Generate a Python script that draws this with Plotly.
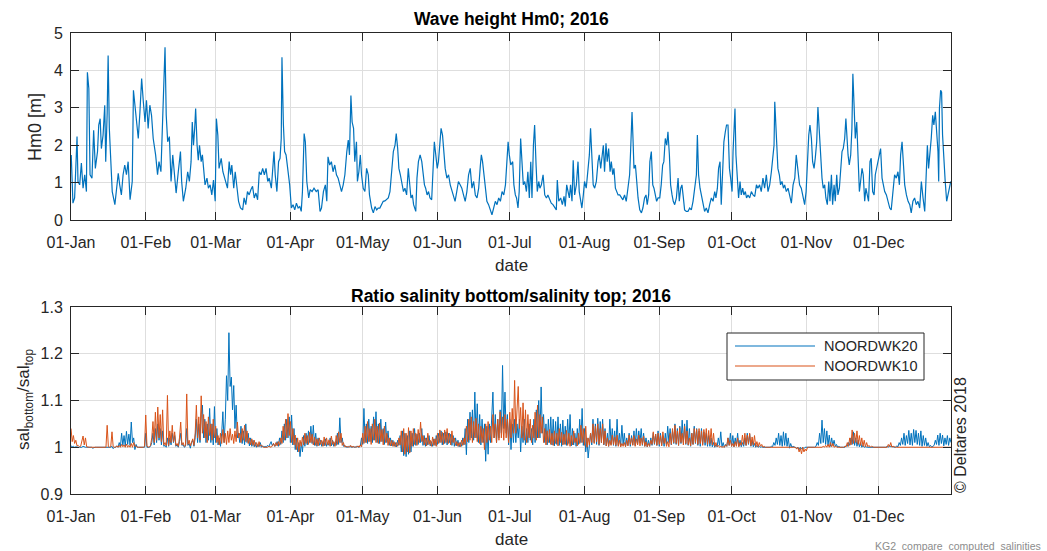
import pandas as pd
import plotly.graph_objects as go

START = pd.Timestamp("2016-01-01")
W, H = 1047, 551
FONT = "Liberation Sans, Arial, Helvetica, sans-serif"
BLUE = "#0072BD"
ORANGE = "#D95319"

# Significant wave height Hm0 [m]: (days since 1 Jan 2016, value)
hm0_q1 = [
    (0.1, 1.74), (0.8, 0.45), (1.5, 0.59), (2.5, 2.23), (2.9, 1.03), (3.6, 0.94), (4.3, 1.52),
    (5.0, 0.85), (5.7, 1.21), (6.4, 0.76), (6.8, 3.95), (7.4, 3.51), (7.9, 1.21), (8.7, 1.12),
    (9.4, 2.40), (10.1, 1.38), (11.0, 1.83), (11.5, 2.54), (12.1, 2.71), (12.6, 1.91), (13.3, 2.27),
    (14.0, 3.07), (14.4, 1.56), (15.0, 2.85), (15.4, 4.40), (15.9, 2.45), (16.4, 1.74), (17.1, 0.76),
    (18.2, 0.41), (18.9, 0.85), (19.6, 1.25), (20.2, 0.94), (20.9, 0.67), (21.6, 1.21), (22.3, 1.47),
    (23.0, 1.21), (23.7, 1.56), (24.5, 0.54), (25.4, 1.03), (25.9, 3.47), (26.5, 3.02), (27.2, 2.54),
    (27.9, 2.18), (28.6, 2.89), (29.3, 3.78), (30.0, 3.16), (30.7, 2.62), (31.3, 3.20), (32.0, 2.45),
    (32.7, 3.07), (33.4, 2.80), (34.1, 2.18), (35.1, 1.74), (35.9, 1.21), (36.5, 1.56), (37.3, 1.29),
    (38.0, 2.80), (38.6, 3.42), (39.0, 4.62), (39.5, 2.80), (40.1, 2.09), (40.8, 2.23), (41.5, 1.03),
    (42.2, 1.74), (42.9, 1.12), (43.6, 0.72), (44.5, 1.29), (45.4, 1.83), (45.9, 1.03), (46.6, 0.50),
    (47.6, 0.85), (48.4, 1.29), (49.1, 1.03), (49.8, 1.56), (50.3, 2.62), (50.8, 2.00), (51.3, 2.45),
    (51.7, 2.98), (52.3, 2.00), (52.8, 1.60), (53.3, 2.00), (54.0, 1.56), (54.5, 1.74), (55.1, 1.29),
    (55.6, 0.94), (56.4, 1.12), (57.0, 0.85), (57.7, 0.94), (58.4, 0.67), (59.1, 1.07), (59.8, 0.50),
    (60.3, 2.71), (60.9, 2.27), (61.4, 1.38), (62.3, 1.65), (63.0, 1.29), (63.7, 1.12), (64.2, 1.03),
    (64.9, 0.85), (65.6, 1.56), (66.2, 1.21), (66.7, 1.47), (67.5, 0.85), (68.1, 1.29), (68.8, 0.94),
    (69.5, 0.50), (70.3, 0.32), (71.2, 0.27), (71.8, 0.59), (72.5, 0.41), (73.2, 0.76), (73.9, 0.67),
    (74.6, 0.81), (75.3, 0.90), (76.0, 0.59), (76.7, 0.72), (77.4, 0.54), (78.1, 1.29), (78.8, 1.21),
    (79.5, 1.38), (80.2, 1.21), (80.9, 1.38), (81.6, 1.03), (82.2, 1.12), (83.1, 0.85), (83.6, 1.21),
    (84.2, 1.83), (84.7, 1.21), (85.4, 0.76), (86.1, 1.56), (86.7, 1.65), (87.2, 2.18), (87.5, 4.35),
    (88.1, 2.54), (88.6, 1.83), (89.2, 1.74), (89.7, 1.47),
]
hm0_q2 = [
    (90.7, 0.94), (91.4, 0.32), (92.1, 0.41), (92.8, 0.27), (93.5, 0.45), (94.2, 0.32), (94.9, 0.36),
    (95.5, 0.23), (96.0, 0.76), (96.7, 2.31), (97.2, 2.09), (97.8, 1.03), (98.6, 0.59), (99.2, 0.81),
    (100.0, 0.76), (100.8, 0.85), (101.7, 0.76), (102.5, 0.81), (103.3, 0.23), (103.9, 0.32),
    (104.7, 0.76), (105.5, 0.94), (106.1, 0.50), (106.6, 1.69), (107.3, 1.47), (108.0, 1.56),
    (108.7, 1.29), (109.4, 1.47), (110.1, 1.21), (110.8, 1.12), (111.5, 0.94), (112.2, 0.76),
    (112.9, 0.94), (113.6, 1.21), (114.4, 1.83), (115.0, 2.14), (115.5, 1.74), (116.1, 3.33),
    (116.6, 2.62), (117.2, 2.45), (117.7, 1.56), (118.4, 2.09), (118.8, 1.03), (119.4, 1.29),
    (120.0, 1.74), (120.5, 1.21), (121.2, 0.85), (121.9, 0.76), (122.6, 1.38), (123.3, 1.21),
    (123.8, 0.67), (124.7, 0.32), (125.4, 0.19), (126.1, 0.36), (126.8, 0.27), (127.4, 0.32),
    (128.1, 0.32), (128.8, 0.41), (129.5, 0.50), (130.2, 0.51), (130.9, 0.54), (131.6, 0.59),
    (132.3, 0.76), (133.0, 1.29), (133.7, 1.83), (134.4, 2.00), (134.9, 2.31), (135.5, 1.91),
    (136.0, 1.38), (136.6, 1.21), (137.2, 0.94), (137.9, 0.76), (138.5, 0.85), (139.2, 0.67),
    (139.9, 1.38), (140.5, 0.94), (141.0, 0.59), (141.6, 0.67), (142.1, 0.41), (143.0, 0.23),
    (143.5, 1.12), (144.1, 1.56), (144.8, 1.74), (145.5, 1.56), (146.0, 1.21), (146.6, 0.94),
    (147.1, 0.85), (147.7, 0.67), (148.3, 0.76), (148.9, 0.59), (149.6, 0.54), (150.3, 1.65),
    (150.7, 2.09), (151.3, 1.74), (151.9, 1.38), (152.4, 1.56), (153.0, 2.09), (153.5, 2.45),
    (154.1, 2.27), (154.6, 1.74), (155.2, 1.38), (155.9, 1.12), (156.6, 1.21), (157.3, 0.94),
    (158.0, 0.76), (158.7, 0.59), (159.3, 0.50), (160.0, 0.76), (160.7, 1.03), (161.4, 0.94),
    (162.1, 0.85), (162.8, 0.67), (163.5, 0.50), (164.2, 0.76), (164.9, 1.21), (165.6, 1.38),
    (166.3, 0.85), (167.0, 1.03), (167.7, 0.67), (168.4, 0.59), (169.1, 0.85), (169.8, 1.47),
    (170.2, 1.74), (170.7, 1.56), (171.3, 1.21), (171.8, 0.85), (172.5, 0.50), (173.2, 0.41),
    (173.9, 0.27), (174.6, 0.14), (175.3, 0.32), (176.0, 0.50), (176.7, 0.41), (177.4, 0.59),
    (178.1, 0.50), (178.8, 0.76), (179.5, 0.67), (180.2, 0.94), (180.8, 1.56), (181.3, 2.09),
    (181.8, 1.74), (182.4, 1.47),
]
hm0_q3 = [
    (183.2, 1.56), (183.7, 0.94), (184.3, 0.67), (184.8, 0.59), (185.4, 0.32), (185.9, 0.76),
    (186.5, 2.18), (187.1, 1.38), (187.6, 0.94), (188.2, 1.03), (188.9, 0.76), (189.5, 1.29),
    (190.1, 0.59), (190.7, 1.56), (191.2, 0.59), (191.8, 2.00), (192.3, 2.54), (192.9, 1.47),
    (193.4, 0.76), (194.0, 1.03), (194.5, 0.85), (195.1, 0.94), (195.8, 1.21), (196.5, 0.67),
    (197.2, 0.59), (197.8, 0.67), (198.5, 0.54), (199.2, 0.45), (199.9, 0.41), (200.6, 0.32),
    (201.3, 0.27), (201.7, 1.07), (202.3, 0.50), (203.1, 0.59), (203.8, 0.41), (204.5, 0.63),
    (205.0, 0.36), (205.6, 0.94), (206.1, 0.72), (206.7, 0.59), (207.2, 0.94), (207.8, 0.50),
    (208.3, 1.60), (208.9, 0.67), (209.6, 0.94), (210.3, 1.56), (210.8, 0.76), (211.4, 0.50),
    (211.9, 0.32), (212.5, 0.67), (213.0, 1.03), (213.7, 0.85), (214.4, 1.38), (215.0, 1.74),
    (215.5, 2.45), (216.1, 1.74), (216.6, 0.94), (217.2, 0.85), (217.9, 1.03), (218.6, 1.56),
    (219.1, 1.74), (219.7, 1.38), (220.2, 1.65), (220.8, 2.00), (221.3, 1.29), (221.9, 2.05),
    (222.4, 1.56), (223.0, 1.91), (223.6, 1.29), (224.1, 1.56), (224.7, 1.21), (225.2, 1.38),
    (225.8, 0.85), (226.3, 0.76), (226.9, 0.67), (227.6, 0.67), (228.3, 0.59), (228.9, 0.54),
    (229.6, 0.67), (230.3, 0.50), (231.0, 0.85), (231.7, 1.21), (232.1, 1.83), (232.7, 2.89),
    (233.1, 2.18), (233.5, 1.38), (234.1, 1.47), (234.6, 1.03), (235.2, 0.59), (235.9, 0.27),
    (236.6, 0.19), (237.2, 0.32), (237.9, 0.59), (238.5, 0.67), (239.0, 0.41), (239.6, 0.67),
    (240.1, 1.56), (240.7, 1.83), (241.3, 0.94), (241.8, 0.85), (242.4, 0.67), (242.9, 0.50),
    (243.5, 0.59), (244.2, 0.59), (244.8, 0.94), (245.4, 1.47), (245.9, 1.56), (246.5, 2.18),
    (247.1, 2.00), (247.6, 2.36), (248.2, 1.74), (248.7, 0.94), (249.3, 0.67), (249.8, 0.50),
    (250.4, 0.41), (251.1, 0.59), (251.8, 1.12), (252.3, 0.50), (252.9, 0.85), (253.4, 0.94),
    (254.0, 0.59), (254.5, 0.27), (255.2, 0.23), (255.9, 0.23), (256.6, 0.32), (257.3, 0.27),
    (258.0, 0.50), (258.7, 0.85), (259.4, 1.21), (259.8, 2.27), (260.3, 1.21), (260.9, 0.85),
    (261.4, 0.67), (262.1, 0.50), (262.8, 0.23), (263.5, 0.32), (264.2, 0.19), (264.9, 0.41),
    (265.6, 0.59), (266.3, 0.50), (267.0, 0.76), (267.5, 0.59), (268.1, 0.85), (268.6, 1.38),
    (269.2, 1.56), (269.7, 0.41), (270.3, 1.47), (270.8, 2.09), (271.4, 2.36), (271.9, 2.54),
]
hm0_q4 = [
    (272.5, 2.54), (273.1, 1.38), (273.6, 1.12), (274.2, 0.76), (274.6, 1.83), (275.0, 2.45),
    (275.4, 2.98), (275.8, 1.74), (276.4, 1.12), (276.9, 0.59), (277.5, 1.03), (278.0, 0.67),
    (278.6, 0.85), (279.1, 0.67), (279.7, 0.76), (280.2, 0.59), (280.8, 0.67), (281.5, 0.59),
    (282.2, 0.76), (282.9, 0.67), (283.6, 0.63), (284.3, 0.94), (284.9, 0.85), (285.6, 0.94),
    (286.3, 0.76), (287.0, 1.12), (287.7, 0.85), (288.4, 1.21), (289.1, 0.76), (289.8, 0.94),
    (290.5, 1.29), (291.0, 1.65), (291.6, 2.00), (291.9, 3.16), (292.3, 2.45), (292.8, 1.74),
    (293.2, 1.38), (293.8, 1.21), (294.3, 0.94), (294.9, 1.03), (295.5, 0.85), (296.0, 0.94),
    (296.7, 0.76), (297.4, 0.85), (298.1, 0.67), (298.8, 0.45), (299.5, 0.94), (300.2, 1.12),
    (300.8, 1.74), (301.5, 1.29), (302.2, 0.94), (302.9, 0.85), (303.6, 0.67), (304.3, 0.41),
    (304.9, 0.76), (305.4, 1.56), (306.0, 2.27), (306.5, 2.54), (307.1, 2.18), (307.6, 1.56),
    (308.2, 1.38), (308.7, 1.65), (309.3, 2.09), (309.8, 3.02), (310.4, 2.36), (310.9, 1.65),
    (311.5, 1.12), (312.0, 0.85), (312.6, 0.94), (313.1, 0.59), (313.7, 0.41), (314.3, 1.03),
    (314.8, 0.50), (315.4, 1.21), (315.9, 0.41), (316.5, 0.94), (317.0, 0.50), (317.6, 1.21),
    (318.1, 0.67), (318.7, 0.85), (319.2, 1.47), (319.8, 1.83), (320.3, 1.91), (320.9, 2.18),
    (321.4, 2.71), (321.9, 2.00), (322.3, 1.74), (322.8, 1.47), (323.4, 1.74), (323.9, 2.45),
    (324.3, 3.91), (324.8, 3.07), (325.3, 2.18), (325.9, 2.62), (326.4, 1.83), (327.0, 0.76),
    (327.5, 1.03), (328.1, 1.38), (328.6, 1.21), (329.2, 0.50), (329.7, 0.85), (330.3, 0.67),
    (330.8, 0.50), (331.4, 1.56), (331.9, 1.65), (332.5, 0.76), (333.1, 0.67), (333.6, 1.21),
    (334.2, 1.38), (334.7, 1.56), (335.3, 1.74), (335.8, 1.91), (336.4, 1.12), (336.9, 0.94),
    (337.5, 0.76), (338.2, 0.67), (338.9, 0.50), (339.6, 0.32), (340.2, 0.27), (340.9, 0.76),
    (341.6, 1.21), (342.3, 1.12), (343.0, 1.29), (343.6, 0.94), (344.1, 1.74), (344.7, 2.09),
    (345.2, 1.38), (345.8, 0.94), (346.5, 0.67), (347.2, 0.50), (347.9, 0.41), (348.5, 0.19),
    (349.2, 0.50), (349.9, 0.59), (350.6, 0.41), (351.3, 0.50), (352.0, 0.32), (352.7, 1.03),
    (353.4, 0.59), (354.1, 0.23), (354.6, 1.03), (355.2, 2.00), (355.7, 1.38), (356.3, 1.74),
    (356.8, 2.18), (357.4, 2.80), (357.9, 2.54), (358.5, 2.89), (359.0, 2.36), (359.6, 1.83),
    (359.9, 1.03), (360.2, 2.98), (360.7, 3.47), (361.1, 3.42), (361.5, 2.27), (362.1, 1.38),
    (362.6, 1.03), (363.2, 0.50), (363.7, 0.67), (364.4, 0.85), (364.9, 1.03),
]

# Salinity ratio bottom/top, 12-hourly from 1 Jan 2016 00:00 (one row = 5 days)
ratio_noordwk20 = [
    1.003, 1.001, 1.002, 1, 1.001, 1, 1, 1, 1, 1,
    1.002, 1, 1, 1, 1, 1, 1, 1, 0.998, 1,
    1, 1, 1, 1, 1, 1, 1, 1, 1, 1,
    1, 1, 1, 1, 1.002, 0.997, 1, 1, 1.003, 1,
    1.01, 1.001, 1.03, 1.004, 1.025, 1.002, 1.034, 1.006, 1.028, 1.004,
    1.054, 1.01, 1.02, 0.995, 1.006, 1, 1, 1, 1, 1,
    1, 1, 1.03, 1, 1, 1, 1.002, 1.01, 1.03, 1.005,
    1.04, 1.01, 1.05, 1.015, 1.04, 1.005, 1.035, 1.002, 1.004, 1,
    1.02, 1.002, 1.02, 1.005, 1.03, 1.01, 1.025, 1.002, 1.005, 1,
    1.012, 1.03, 1.004, 1.006, 1, 1.002, 1.04, 1.004, 1.008, 0.998,
    1.01, 1.015, 1.002, 1.02, 1.06, 1.01, 1.05, 1.01, 1.07, 1.09,
    1.02, 1.06, 1.01, 1.05, 1.015, 1.083, 1.01, 1.05, 1.005, 1.087,
    1.01, 1.04, 1.005, 1.02, 1.002, 1.03, 1.076, 1.01, 1.06, 1.153,
    1.1, 1.245, 1.13, 1.15, 1.08, 1.132, 1.04, 1.09, 1.02, 1.03,
    1.01, 1.045, 1.008, 1.035, 1.005, 1.05, 1.01, 1.03, 1.003, 1.02,
    1.002, 1.015, 1.001, 1.01, 1, 1.006, 1.001, 1.01, 1, 1.003,
    1, 1.002, 1, 1.004, 1.001, 1.006, 1.012, 1.003, 1.008, 1.002,
    1.004, 1.012, 1.002, 1.02, 1.006, 1.035, 1.01, 1.05, 1.015, 1.06,
    1.02, 1.065, 1.01, 1.069, 1.005, 1.04, 0.995, 1.02, 0.99, 1.01,
    0.98, 1.01, 0.99, 1.025, 1.002, 1.03, 1.005, 1.035, 1.01, 1.045,
    1.008, 1.047, 1.004, 1.03, 1.002, 1.02, 1.004, 1.015, 1.002, 1.012,
    1.003, 1.018, 1.002, 1.01, 1.004, 1.02, 1.003, 1.015, 1.002, 1.01,
    1.004, 1.03, 1.006, 1.063, 1.01, 1.02, 1.002, 1.004, 1, 1.001,
    1, 1.002, 1, 1, 1.001, 1, 1, 1.002, 1, 1,
    1.003, 1.02, 1.006, 1.083, 1.01, 1.05, 1.008, 1.06, 1.012, 1.045,
    1.01, 1.065, 1.015, 1.076, 1.01, 1.05, 1.008, 1.06, 1.012, 1.04,
    1.006, 1.054, 1.01, 1.035, 1.004, 1.02, 1.003, 1.015, 1.002, 1.01,
    1.001, 1.015, 1.004, 1.025, 0.99, 1.035, 0.982, 1.03, 0.98, 1.025,
    0.985, 1.035, 0.99, 1.03, 1.002, 1.04, 1.004, 1.028, 1.006, 1.03,
    1.01, 1.04, 1.004, 1.025, 1.002, 1.02, 1.005, 1.025, 1.003, 1.012,
    1.002, 1.018, 1.004, 1.025, 1.006, 1.03, 1.01, 1.035, 1.005, 1.03,
    1.008, 1.033, 1.005, 1.03, 1.01, 1.028, 1.004, 1.025, 1.002, 1.02,
    1.003, 1.015, 1.001, 1.01, 1.002, 1.02, 1.005, 1.04, 0.984, 1.06,
    1.01, 1.075, 1.02, 1.08, 1.015, 1.118, 1.02, 1.093, 1.01, 1.07,
    1.005, 1.06, 1.01, 1.05, 0.97, 1.045, 0.985, 1.05, 1.01, 1.06,
    1.118, 1.02, 1.07, 1.01, 1.06, 1.02, 1.08, 1.03, 1.175, 1.04,
    1.118, 1.03, 1.07, 1.005, 1.06, 0.995, 1.05, 1.01, 1.06, 1.01,
    1.05, 1.02, 1.06, 0.99, 1.045, 1.01, 1.06, 1.005, 1.04, 1.01,
    1.05, 1.015, 1.04, 1.005, 1.06, 1.01, 1.08, 1.02, 1.1, 1.02,
    1.129, 1.03, 1.07, 1.01, 1.05, 1.005, 1.06, 1.01, 1.065, 1.005,
    1.06, 1.003, 1.055, 1.006, 1.065, 1.004, 1.05, 1.002, 1.058, 1.006,
    1.045, 1.004, 1.06, 1.008, 1.07, 1.003, 1.04, 1.005, 1.03, 1.002,
    1.04, 1.006, 1.06, 1.01, 1.083, 1.004, 1.04, 0.99, 1.02, 0.977,
    1.01, 1.03, 1.005, 1.06, 1.01, 1.05, 1.006, 1.062, 1.004, 1.055,
    1.01, 1.06, 1.005, 1.04, 1.003, 1.03, 1.002, 1.06, 1.006, 1.04,
    1.004, 1.035, 1.002, 1.06, 1.004, 1.03, 1.002, 1.047, 1.005, 1.03,
    1.002, 1.02, 1.004, 1.03, 1.002, 1.025, 1.005, 1.035, 1.004, 1.04,
    1.006, 1.035, 1.01, 1.04, 1.004, 1.03, 1.002, 1.02, 1.001, 1.015,
    1.002, 1.02, 1.004, 1.03, 1.006, 1.028, 1.004, 1.035, 1.002, 1.03,
    1.004, 1.025, 1.002, 1.03, 1.006, 1.045, 1.01, 1.04, 1.005, 1.035,
    1.008, 1.05, 1.006, 1.04, 1.004, 1.045, 1.008, 1.058, 1.01, 1.05,
    1.006, 1.058, 1.004, 1.04, 1.002, 1.03, 1.006, 1.045, 1.008, 1.04,
    1.004, 1.035, 1.002, 1.04, 1.006, 1.033, 1.004, 1.03, 1.002, 1.025,
    1.002, 1.02, 1.001, 1.01, 1, 1.005, 1.001, 1.02, 1.004, 1.033,
    1.001, 1.01, 1, 1.006, 1.002, 1.02, 1.004, 1.03, 1.002, 1.025,
    1.001, 1.02, 1.004, 1.03, 1.002, 1.015, 1.001, 1.01, 1.002, 1.02,
    1.004, 1.03, 1.006, 1.028, 1.002, 1.015, 1.001, 1.008, 1, 1.004,
    1, 1.002, 1, 1.001, 1, 1, 1, 1, 1, 1,
    1, 1.002, 1.001, 1.01, 1.004, 1.02, 1.006, 1.03, 1.004, 1.025,
    1.002, 1.033, 1.004, 1.03, 1.002, 1.02, 0.998, 1.008, 1, 1.002,
    1, 1, 0.998, 1, 0.995, 1, 0.996, 1, 0.997, 1,
    1, 1, 1, 1, 1, 1.001, 1, 1, 1.002, 1.01,
    1.004, 1.03, 1.008, 1.058, 1.01, 1.04, 1.006, 1.035, 1.004, 1.026,
    1.002, 1.02, 1.004, 1.015, 1.002, 1.006, 1, 1.002, 1, 1,
    1, 1.001, 1, 1.004, 1.002, 1.01, 1.004, 1.02, 1.006, 1.033,
    1.004, 1.02, 1.002, 1.015, 1.001, 1.01, 1, 1.004, 1, 1.001,
    1, 1, 1, 1, 1, 1, 1, 1, 1, 1,
    1, 1, 1, 1, 1, 1, 1, 1.002, 1, 1.004,
    1.001, 1.002, 1, 1, 1, 1.003, 1.001, 1.01, 1.004, 1.02,
    1.006, 1.03, 1.004, 1.025, 1.008, 1.036, 1.005, 1.03, 1.004, 1.038,
    1.01, 1.036, 1.006, 1.03, 1.004, 1.035, 1.002, 1.025, 1.004, 1.02,
    1.002, 1.01, 1.001, 1.004, 1, 1.002, 1.004, 1.015, 1.006, 1.026,
    1.004, 1.03, 1.008, 1.026, 1.003, 1.02, 1.006, 1.025, 1.004, 1.02,
    1.01,
]
ratio_noordwk10 = [
    1.04, 1.012, 1.025, 1.008, 1.015, 1.003, 1.004, 1.001, 1.002, 1.018,
    1.024, 1.005, 1.02, 1.001, 1, 1, 1, 1, 1, 1,
    1, 1, 1, 1, 1, 1, 1, 1, 1, 1,
    1.047, 1.001, 1, 1.002, 1.033, 1.001, 1, 1, 1.003, 1,
    1.004, 1, 1.006, 1.001, 1.005, 1, 1.007, 1, 1.004, 1,
    1.008, 1, 1.01, 1.002, 1.003, 1, 1, 1, 1, 1,
    1, 1.002, 1.069, 1.003, 1, 1.001, 1.004, 1.02, 1.055, 1.01,
    1.075, 1.015, 1.086, 1.02, 1.07, 1.012, 1.08, 1.005, 1.01, 1.003,
    1.111, 1.004, 1.035, 1.01, 1.047, 1.012, 1.033, 1.004, 1.008, 1.002,
    1.02, 1.054, 1.005, 1.01, 1.002, 1.004, 1.114, 1.006, 1.015, 1.003,
    1.012, 1.018, 1.004, 1.03, 1.09, 1.02, 1.065, 1.015, 1.11, 1.03,
    1.07, 1.02, 1.055, 1.01, 1.065, 1.025, 1.05, 1.015, 1.06, 1.02,
    1.045, 1.01, 1.025, 1.005, 1.03, 1.008, 1.038, 1.01, 1.03, 1.006,
    1.035, 1.01, 1.04, 1.015, 1.028, 1.008, 1.035, 1.012, 1.054, 1.02,
    1.03, 1.01, 1.04, 1.015, 1.047, 1.012, 1.035, 1.008, 1.02, 1.005,
    1.018, 1.004, 1.015, 1.002, 1.01, 1.001, 1.012, 1.002, 1.005, 1.001,
    1, 1, 1.001, 1, 1.002, 1, 1, 1.003, 1.008, 1.002,
    1.01, 1.003, 1.012, 1.004, 1.02, 1.008, 1.045, 1.015, 1.06, 1.02,
    1.072, 1.025, 1.055, 1.01, 1.04, 1.005, 1.026, 0.995, 1.02, 0.99,
    1.015, 1.002, 1.022, 1.005, 1.03, 1.008, 1.025, 1.006, 1.032, 1.01,
    1.028, 1.005, 1.022, 1.004, 1.018, 1.003, 1.02, 1.006, 1.015, 1.002,
    1.022, 1.004, 1.02, 1.005, 1.016, 1.002, 1.024, 1.006, 1.012, 1.002,
    1.025, 1.006, 1.033, 1.01, 1.03, 1.004, 1.01, 1.001, 1.003, 1,
    1.002, 1, 1.004, 1, 1.002, 1, 1.001, 1, 1.003, 1,
    1.005, 1.001, 1.03, 1.008, 1.045, 1.01, 1.055, 1.012, 1.04, 1.006,
    1.05, 1.015, 1.06, 1.01, 1.045, 1.008, 1.052, 1.012, 1.038, 1.005,
    1.045, 1.01, 1.03, 1.004, 1.02, 1.003, 1.015, 1.002, 1.012, 1.001,
    1.01, 1.002, 1.02, 1.005, 1.035, 0.99, 1.04, 0.985, 1.03, 0.99,
    1.042, 0.988, 1.035, 1.002, 1.04, 1.006, 1.03, 1.004, 1.038, 1.01,
    1.054, 1.012, 1.025, 1.005, 1.02, 1.003, 1.03, 1.006, 1.015, 1.002,
    1.022, 1.004, 1.018, 1.002, 1.03, 1.008, 1.037, 1.01, 1.032, 1.006,
    1.037, 1.01, 1.04, 1.008, 1.03, 1.005, 1.035, 1.01, 1.02, 1.004,
    1.012, 1.002, 1.01, 1.001, 1.015, 1.004, 1.02, 1.006, 1.045, 1.012,
    1.06, 1.015, 1.065, 1.01, 1.055, 1.02, 1.062, 1.012, 1.05, 1.008,
    1.045, 1.01, 1.04, 0.995, 1.05, 1.01, 1.055, 1.015, 1.045, 1.01,
    1.07, 1.02, 1.05, 1.01, 1.06, 1.015, 1.076, 1.02, 1.065, 1.015,
    1.07, 1.02, 1.06, 1.01, 1.075, 1.02, 1.083, 1.03, 1.143, 1.03,
    1.1, 1.13, 1.04, 1.085, 1.02, 1.095, 1.015, 1.08, 1.01, 1.07,
    1.02, 1.06, 1.01, 1.047, 1.02, 1.075, 1.015, 1.09, 1.02, 1.07,
    1.03, 1.065, 1.01, 1.04, 1.005, 1.035, 1.01, 1.038, 1.006, 1.03,
    1.004, 1.035, 1.008, 1.03, 1.003, 1.04, 1.01, 1.032, 1.005, 1.028,
    1.006, 1.036, 1.004, 1.03, 1.002, 1.025, 1.005, 1.035, 1.01, 1.02,
    1.003, 1.03, 1.008, 1.047, 1.01, 1.04, 1.004, 1.045, 1, 1.02,
    1.005, 1.03, 1.01, 1.05, 1.008, 1.045, 1.012, 1.05, 1.006, 1.04,
    1.01, 1.05, 1.006, 1.035, 1.003, 1.02, 1.002, 1.015, 1.004, 1.026,
    1.006, 1.022, 1.004, 1.026, 1.002, 1.015, 1.001, 1.008, 1.002, 1.01,
    1.001, 1.015, 1.003, 1.026, 1.006, 1.02, 1.004, 1.025, 1.002, 1.018,
    1.005, 1.026, 1.003, 1.02, 1.006, 1.024, 1.002, 1.012, 1.001, 1.008,
    1.002, 1.015, 1.006, 1.033, 1.008, 1.028, 1.004, 1.03, 1.006, 1.025,
    1.003, 1.033, 1.008, 1.02, 1.002, 1.012, 1.001, 1.03, 1.006, 1.04,
    1.01, 1.047, 1.008, 1.035, 1.004, 1.042, 1.01, 1.03, 1.005, 1.045,
    1.008, 1.035, 1.005, 1.02, 1.003, 1.03, 1.006, 1.04, 1.01, 1.038,
    1.006, 1.04, 1.008, 1.035, 1.004, 1.038, 1.01, 1.04, 1.006, 1.036,
    1.008, 1.04, 1.005, 1.03, 1.002, 1.01, 1.001, 1.004, 1, 1.002,
    1, 1.001, 1, 1.005, 1.002, 1.02, 1.004, 1.015, 1.002, 1.008,
    1.001, 1.012, 1.002, 1.02, 1.001, 1.01, 1.004, 1.026, 1.006, 1.03,
    1.004, 1.026, 1.008, 1.03, 1.003, 1.022, 1.005, 1.025, 1.002, 1.012,
    1.001, 1.01, 1.002, 1.006, 1, 1.002, 1, 1, 1, 1,
    1, 1, 1, 1.001, 1, 1, 1, 1, 1, 1,
    1, 1, 1.001, 1, 1, 1, 1, 1, 1, 1,
    1, 1, 0.996, 1, 0.99, 0.998, 0.986, 1, 0.99, 0.996,
    0.992, 1, 1, 1, 1, 1, 1, 1, 1, 1,
    1, 1, 1, 1, 1.002, 1, 1.004, 1, 1.006, 1,
    1.01, 1.001, 1.008, 1, 1.002, 1, 1, 1, 1, 1,
    1, 1, 1.002, 1.001, 1.01, 1.002, 1.02, 1.005, 1.037, 1.008,
    1.03, 1.01, 1.035, 1.006, 1.025, 1.004, 1.02, 1.002, 1.015, 1.001,
    1.01, 1.001, 1.004, 1, 1.002, 1, 1, 1, 1, 1,
    1, 1, 1, 1, 1, 1, 1, 1, 1.006, 1.001,
    1.01, 1, 1.002, 1, 1, 1, 1, 1, 1, 1,
    1, 1, 1, 1, 1.001, 1, 1, 1, 1, 1,
    1, 1, 1, 1, 1, 1, 1.001, 1, 1, 1,
    1, 1, 1, 1, 1, 1, 1, 1, 1, 1,
    1, 1, 1, 1.001, 1, 1, 1, 1, 1, 1,
    1,
]

month_ticks = pd.date_range("2016-01-01", "2016-12-01", freq="MS")
x_end = pd.Timestamp("2016-12-31")

hm0_points = hm0_q1 + hm0_q2 + hm0_q3 + hm0_q4
hm0_time = [START + pd.Timedelta(days=d) for d, _ in hm0_points]
hm0_val = [v for _, v in hm0_points]
t20 = pd.date_range(START, periods=len(ratio_noordwk20), freq="12h")
t10 = pd.date_range(START, periods=len(ratio_noordwk10), freq="12h")


def px(x):
    return x / W


def py(y):
    return 1 - y / H


fig = go.Figure()
fig.add_trace(go.Scatter(x=hm0_time, y=hm0_val, mode="lines", xaxis="x", yaxis="y",
                         line=dict(color=BLUE, width=1.2), showlegend=False))
fig.add_trace(go.Scatter(x=t20, y=ratio_noordwk20, mode="lines", xaxis="x2", yaxis="y2",
                         line=dict(color=BLUE, width=1), name="NOORDWK20", showlegend=False))
fig.add_trace(go.Scatter(x=t10, y=ratio_noordwk10, mode="lines", xaxis="x2", yaxis="y2",
                         line=dict(color=ORANGE, width=1), name="NOORDWK10", showlegend=False))

axis_style = dict(
    showline=True, linecolor="#262626", linewidth=1, mirror="ticks",
    ticks="inside", ticklen=8, tickcolor="#262626", tickwidth=1,
    showgrid=True, gridcolor="#dedede", gridwidth=1, zeroline=False, automargin=False,
    tickfont=dict(family=FONT, size=16, color="#262626"),
)
x_style = dict(axis_style, type="date", range=[START, x_end], tickvals=month_ticks,
               tickformat="%d-%b", domain=[px(71), px(951)], ticklabelstandoff=8)
y_style = dict(axis_style, ticklabelstandoff=4)

fig.update_layout(
    width=W, height=H, margin=dict(l=0, r=0, t=0, b=0, autoexpand=False),
    paper_bgcolor="white", plot_bgcolor="white",
    font=dict(family=FONT, color="#262626"),
    xaxis=dict(x_style, anchor="y"),
    yaxis=dict(y_style, range=[0, 5], tickvals=[0, 1, 2, 3, 4, 5],
               domain=[py(220), py(33)], anchor="x"),
    xaxis2=dict(x_style, anchor="y2"),
    yaxis2=dict(y_style, range=[0.9, 1.3], tickvals=[0.9, 1.0, 1.1, 1.2, 1.3],
                ticktext=["0.9", "1", "1.1", "1.2", "1.3"],
                domain=[py(494), py(307)], anchor="x2"),
)

ann = [
    dict(text="<b>Wave height Hm0; 2016</b>", x=px(511), y=py(19), size=17.5, color="black"),
    dict(text="<b>Ratio salinity bottom/salinity top; 2016</b>", x=px(511), y=py(296), size=17.5, color="black"),
    dict(text="date", x=px(511), y=py(265), size=17),
    dict(text="date", x=px(511), y=py(539), size=17),
    dict(text="Hm0 [m]", x=px(35), y=py(127), size=18, angle=-90),
    dict(text="sal<sub>bottom</sub>/sal<sub>top</sub>", x=px(25), y=py(400), size=17, angle=-90),
    dict(text="\u00a9 Deltares 2018", x=px(960), y=py(435), size=16, angle=-90),
]
for a in ann:
    fig.add_annotation(
        text=a["text"], x=a["x"], y=a["y"], xref="paper", yref="paper",
        xanchor="center", yanchor="middle", showarrow=False, textangle=a.get("angle", 0),
        font=dict(family=FONT, size=a["size"], color=a.get("color", "#262626")),
    )

fig.add_annotation(text="KG2  compare  computed  salinities", x=px(1043), y=py(546),
                   xref="paper", yref="paper", xanchor="right", yanchor="middle",
                   showarrow=False, font=dict(family=FONT, size=10.5, color="#8c8c8c"))

# legend box drawn with shapes so the line samples match the long MATLAB style
fig.add_shape(type="rect", xref="paper", yref="paper", x0=px(727), x1=px(924), y0=py(380), y1=py(333),
              line=dict(color="#262626", width=1), fillcolor="white", layer="above")
legend_rows = [("NOORDWK20", BLUE, 346), ("NOORDWK10", ORANGE, 366)]
for label, color, yy in legend_rows:
    fig.add_shape(type="line", xref="paper", yref="paper", x0=px(735), x1=px(815), y0=py(yy), y1=py(yy),
                  line=dict(color=color, width=1.2), layer="above")
    fig.add_annotation(text=label, x=px(822), y=py(yy), xref="paper", yref="paper",
                       xanchor="left", yanchor="middle", showarrow=False,
                       font=dict(family=FONT, size=14.5, color="#262626"))

fig.write_html("out.html")
